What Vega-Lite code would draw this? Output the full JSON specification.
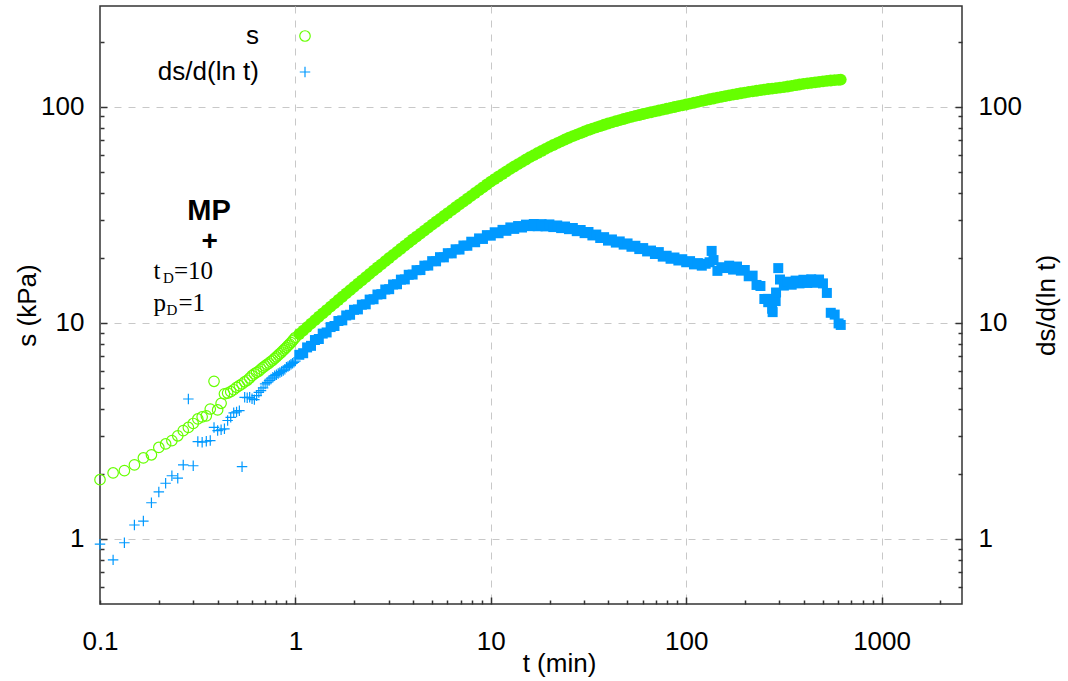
{
  "$schema": "https://vega.github.io/schema/vega-lite/v6.json",
  "width": 862,
  "height": 598,
  "autosize": {"type": "none"},
  "padding": {"left": 100, "top": 6, "right": 106, "bottom": 77},
  "background": "white",
  "config": {
    "view": {"stroke": "#333333", "strokeWidth": 1.5},
    "font": "Liberation Sans",
    "axis": {
      "domain": false,
      "labelFont": "Liberation Sans",
      "labelFontSize": 26,
      "labelColor": "#000000",
      "titleFont": "Liberation Sans",
      "titleFontSize": 26,
      "titleFontWeight": "normal",
      "titleColor": "#000000",
      "tickColor": "#333333",
      "tickWidth": 1.5,
      "gridColor": "#c8c8c8",
      "gridDash": [7, 7],
      "gridWidth": 1,
      "labelFlush": false,
      "labelOverlap": false
    }
  },
  "datasets": {
    "pts": [
      {"t":0.1,"s":1.88,"d":0.946},{"t":0.1167,"s":2.02,"d":0.8},{"t":0.1333,"s":2.07,"d":0.96},{"t":0.15,"s":2.2,"d":1.16},
      {"t":0.1667,"s":2.37,"d":1.21},{"t":0.1833,"s":2.45,"d":1.47},{"t":0.2,"s":2.65,"d":1.65},{"t":0.2167,"s":2.75,"d":1.81},
      {"t":0.2333,"s":2.85,"d":1.96},{"t":0.25,"s":3.0,"d":1.91},{"t":0.2667,"s":3.17,"d":2.2},{"t":0.2833,"s":3.28,"d":4.44},
      {"t":0.3,"s":3.42,"d":2.18},{"t":0.3167,"s":3.59,"d":2.82},{"t":0.3333,"s":3.67,"d":2.8},{"t":0.35,"s":3.71,"d":2.83},
      {"t":0.3667,"s":3.99,"d":2.85},{"t":0.3833,"s":5.36,"d":3.28},{"t":0.4,"s":3.95,"d":3.17},{"t":0.4167,"s":4.24,"d":3.2},
      {"t":0.4333,"s":4.69,"d":3.23},{"t":0.45,"s":4.73,"d":3.53},{"t":0.4667,"s":4.8,"d":3.65},{"t":0.4833,"s":4.9,"d":3.83},
      {"t":0.5,"s":5.03,"d":3.87},{"t":0.5167,"s":5.12,"d":3.92},{"t":0.5333,"s":5.21,"d":2.16},{"t":0.55,"s":5.33,"d":4.52},
      {"t":0.5667,"s":5.42,"d":4.5},{"t":0.5833,"s":5.55,"d":4.52},{"t":0.6,"s":5.69,"d":4.45},{"t":0.6167,"s":5.8,"d":4.41},
      {"t":0.6333,"s":5.89,"d":4.6},{"t":0.65,"s":5.98,"d":4.76},{"t":0.6667,"s":6.1,"d":4.85},{"t":0.6833,"s":6.22,"d":5.0},
      {"t":0.7,"s":6.32,"d":5.21},{"t":0.7167,"s":6.42,"d":5.3},{"t":0.7333,"s":6.5,"d":5.4},{"t":0.75,"s":6.62,"d":5.5},
      {"t":0.7667,"s":6.72,"d":5.6},{"t":0.7833,"s":6.85,"d":5.69},{"t":0.8,"s":6.95,"d":5.75},{"t":0.8167,"s":7.08,"d":5.82},
      {"t":0.8333,"s":7.2,"d":5.89},{"t":0.85,"s":7.32,"d":5.95},{"t":0.8667,"s":7.45,"d":6.02},{"t":0.8833,"s":7.58,"d":6.1},
      {"t":0.9,"s":7.7,"d":6.22},{"t":0.9167,"s":7.84,"d":6.28},{"t":0.9333,"s":7.97,"d":6.35},{"t":0.95,"s":8.1,"d":6.42},
      {"t":0.9667,"s":8.25,"d":6.49},{"t":0.9833,"s":8.4,"d":6.56},{"t":1.0,"s":8.55,"d":6.65},
      {"t":1.047,"s":8.87,"d":7.11},{"t":1.096,"s":9.2,"d":7.23},{"t":1.148,"s":9.55,"d":7.69},{"t":1.202,"s":9.91,"d":7.82},
      {"t":1.259,"s":10.28,"d":8.32},{"t":1.318,"s":10.66,"d":8.41},{"t":1.38,"s":11.05,"d":8.91},{"t":1.445,"s":11.45,"d":9.02},
      {"t":1.514,"s":11.87,"d":9.55},{"t":1.585,"s":12.3,"d":9.66},{"t":1.66,"s":12.74,"d":10.19},{"t":1.738,"s":13.19,"d":10.26},
      {"t":1.82,"s":13.67,"d":10.81},{"t":1.905,"s":14.15,"d":10.89},{"t":1.995,"s":14.66,"d":11.48},{"t":2.089,"s":15.17,"d":11.53},
      {"t":2.188,"s":15.7,"d":12.12},{"t":2.291,"s":16.26,"d":12.17},{"t":2.399,"s":16.83,"d":12.8},{"t":2.512,"s":17.42,"d":12.85},
      {"t":2.63,"s":18.02,"d":13.51},{"t":2.754,"s":18.63,"d":13.56},{"t":2.884,"s":19.27,"d":14.25},{"t":3.02,"s":19.93,"d":14.3},
      {"t":3.162,"s":20.61,"d":15.03},{"t":3.311,"s":21.29,"d":15.07},{"t":3.467,"s":22.0,"d":15.83},{"t":3.631,"s":22.73,"d":15.87},
      {"t":3.802,"s":23.49,"d":16.67},{"t":3.981,"s":24.27,"d":16.71},{"t":4.169,"s":25.05,"d":17.51},{"t":4.365,"s":25.86,"d":17.53},
      {"t":4.571,"s":26.69,"d":18.37},{"t":4.786,"s":27.55,"d":18.39},{"t":5.012,"s":28.45,"d":19.28},{"t":5.248,"s":29.34,"d":19.24},
      {"t":5.495,"s":30.26,"d":20.11},{"t":5.754,"s":31.2,"d":20.07},{"t":6.026,"s":32.18,"d":20.98},{"t":6.31,"s":33.19,"d":20.94},
      {"t":6.607,"s":34.22,"d":21.87},{"t":6.918,"s":35.27,"d":21.81},{"t":7.244,"s":36.36,"d":22.77},{"t":7.586,"s":37.48,"d":22.71},
      {"t":7.943,"s":38.64,"d":23.71},{"t":8.318,"s":39.83,"d":23.58},{"t":8.71,"s":41.06,"d":24.56},{"t":9.12,"s":42.33,"d":24.42},
      {"t":9.55,"s":43.63,"d":25.43},{"t":10.0,"s":44.98,"d":25.29},{"t":10.47,"s":46.22,"d":26.22},{"t":10.96,"s":47.49,"d":25.95},
      {"t":11.48,"s":48.8,"d":26.9},{"t":12.02,"s":50.14,"d":26.63},{"t":12.59,"s":51.52,"d":27.61},{"t":13.18,"s":52.82,"d":27.18},
      {"t":13.8,"s":54.15,"d":28.02},{"t":14.45,"s":55.51,"d":27.58},{"t":15.14,"s":56.91,"d":28.44},{"t":15.85,"s":58.34,"d":27.99},
      {"t":16.6,"s":59.65,"d":28.64},{"t":17.38,"s":60.98,"d":27.96},{"t":18.2,"s":62.35,"d":28.59},{"t":19.06,"s":63.74,"d":27.91},
      {"t":19.95,"s":65.16,"d":28.51},{"t":20.89,"s":66.43,"d":27.71},{"t":21.88,"s":67.73,"d":28.19},{"t":22.91,"s":69.06,"d":27.41},
      {"t":23.99,"s":70.41,"d":27.88},{"t":25.12,"s":71.78,"d":27.1},{"t":26.3,"s":72.98,"d":27.44},{"t":27.54,"s":74.2,"d":26.53},
      {"t":28.84,"s":75.44,"d":26.86},{"t":30.2,"s":76.7,"d":25.98},{"t":31.62,"s":77.98,"d":26.3},{"t":33.11,"s":79.07,"d":25.35},
      {"t":34.67,"s":80.16,"d":25.59},{"t":36.31,"s":81.28,"d":24.66},{"t":38.02,"s":82.42,"d":24.89},{"t":39.81,"s":83.56,"d":23.99},
      {"t":41.69,"s":84.57,"d":24.29},{"t":43.65,"s":85.59,"d":23.49},{"t":45.71,"s":86.62,"d":23.78},{"t":47.86,"s":87.66,"d":22.99},
      {"t":50.12,"s":88.72,"d":23.28},{"t":52.48,"s":89.62,"d":22.47},{"t":54.95,"s":90.53,"d":22.71},{"t":57.54,"s":91.45,"d":21.92},
      {"t":60.26,"s":92.39,"d":22.16},{"t":63.1,"s":93.33,"d":21.38},{"t":66.07,"s":94.19,"d":21.58},{"t":69.18,"s":95.06,"d":20.8},
      {"t":72.44,"s":95.94,"d":21.23},{"t":75.86,"s":96.83,"d":20.23},{"t":79.43,"s":97.72,"d":20.42},{"t":83.18,"s":98.63,"d":19.77},
      {"t":87.1,"s":99.54,"d":20.04},{"t":91.2,"s":100.5,"d":19.41},{"t":95.5,"s":101.4,"d":19.68},{"t":100.0,"s":102.3,"d":19.05},
      {"t":104.7,"s":103.3,"d":19.28},{"t":109.6,"s":104.2,"d":18.62},{"t":114.8,"s":105.2,"d":18.88},{"t":120.2,"s":106.2,"d":18.37},
      {"t":125.9,"s":107.2,"d":18.75},{"t":131.8,"s":108.1,"d":19.05},{"t":135,"d":21.5},{"t":138.0,"s":109.0,"d":19.5},{"t":144.5,"s":110.0,"d":17.38},
      {"t":151.4,"s":111.0,"d":18.07},{"t":158.5,"s":111.9,"d":17.91},{"t":166.0,"s":112.8,"d":18.37},{"t":173.8,"s":113.6,"d":17.62},
      {"t":182.0,"s":114.4,"d":18.2},{"t":190.5,"s":115.3,"d":17.42},{"t":199.5,"s":116.1,"d":17.54},{"t":208.9,"s":116.9,"d":16.41},
      {"t":218.8,"s":117.6,"d":16.52},{"t":229.1,"s":118.4,"d":14.96},{"t":239.9,"s":119.2,"d":14.79},{"t":251.2,"s":119.9,"d":12.88},
      {"t":262,"d":12.9},{"t":263.0,"s":120.6,"d":12.45},{"t":275.4,"s":121.2,"d":11.61},{"t":277,"d":11.2},{"t":287,"d":12.6},
      {"t":288.4,"s":121.8,"d":13.8},{"t":296,"d":17.9},{"t":302.0,"s":122.4,"d":15.85},{"t":316.2,"s":123.0,"d":14.86},
      {"t":331.1,"s":123.9,"d":15.49},{"t":346.7,"s":124.7,"d":15.0},{"t":363.1,"s":125.6,"d":15.67},{"t":380.2,"s":126.5,"d":15.21},
      {"t":398.1,"s":127.4,"d":15.81},{"t":416.9,"s":128.1,"d":15.28},{"t":436.5,"s":128.8,"d":15.89},{"t":457.1,"s":129.5,"d":15.31},
      {"t":478.6,"s":130.2,"d":15.85},{"t":501.2,"s":130.9,"d":15.21},{"t":524.8,"s":131.5,"d":13.74},{"t":549.5,"s":132.0,"d":11.12},
      {"t":575.4,"s":132.6,"d":10.91},{"t":602.6,"s":133.0,"d":9.93},{"t":618,"s":133.3,"d":9.77}
    ]
  },
  "layer": [
    {
      "data": {"name": "pts"},
      "transform": [
        {"filter": "datum.t <= 1"},
        {"fold": ["s", "d"], "as": ["series", "value"]},
        {"filter": "isValid(datum.value) && datum.value > 0"}
      ],
      "mark": {"type": "point", "filled": false, "opacity": 1, "strokeWidth": 1.2},
      "encoding": {
        "x": {
          "field": "t", "type": "quantitative",
          "scale": {"type": "log", "domain": [0.1, 2580], "nice": false},
          "axis": {"orient": "bottom", "values": [1, 10, 100, 1000], "format": "~g", "grid": true, "tickSize": -7, "labelPadding": 31, "title": "t (min)", "titleX": 459, "titleY": 67, "titleAlign": "center", "titleBaseline": "alphabetic"}
        },
        "y": {
          "field": "value", "type": "quantitative",
          "scale": {"type": "log", "domain": [0.5, 292], "nice": false},
          "axis": {"orient": "left", "values": [1, 10, 100], "format": "~g", "grid": true, "tickSize": -7, "labelPadding": 23, "title": "s (kPa)", "titlePadding": 0}
        },
        "color": {
          "field": "series", "type": "nominal",
          "scale": {"domain": ["s", "d"], "range": ["#66ff00", "#0099ff"]},
          "legend": {"orient": "none", "legendX": 140, "legendY": 17, "title": null, "labelAlign": "right", "labelOffset": -59, "symbolOffset": 52, "labelExpr": "datum.label == 'd' ? 'ds/d(ln t)' : 's'", "rowPadding": 10, "symbolSize": 110, "labelFontSize": 26, "labelFont": "Liberation Sans", "labelColor": "#000000", "symbolStrokeWidth": 1.2, "padding": 0}
        },
        "shape": {
          "field": "series", "type": "nominal",
          "scale": {"domain": ["s", "d"], "range": ["circle", "M-1,0H1M0,-1V1"]},
          "legend": {"orient": "none", "legendX": 140, "legendY": 17, "title": null, "labelAlign": "right", "labelOffset": -59, "symbolOffset": 52, "labelExpr": "datum.label == 'd' ? 'ds/d(ln t)' : 's'", "rowPadding": 10, "symbolSize": 110, "labelFontSize": 26, "labelFont": "Liberation Sans", "labelColor": "#000000", "symbolStrokeWidth": 1.2, "padding": 0}
        },
        "size": {"value": 110}
      }
    },
    {
      "data": {"name": "pts"},
      "transform": [{"filter": "datum.t > 1 && isValid(datum.s)"}],
      "mark": {"type": "point", "filled": true, "opacity": 1, "shape": "circle", "color": "#66ff00", "size": 140},
      "encoding": {
        "x": {"field": "t", "type": "quantitative", "axis": null},
        "y": {"field": "s", "type": "quantitative", "axis": null}
      }
    },
    {
      "data": {"name": "pts"},
      "transform": [{"filter": "datum.t > 1 && isValid(datum.d)"}],
      "mark": {"type": "point", "filled": true, "opacity": 1, "shape": "square", "color": "#0099ff", "size": 100},
      "encoding": {
        "x": {"field": "t", "type": "quantitative", "axis": null},
        "y": {"field": "d", "type": "quantitative", "axis": null}
      }
    },
    {
      "data": {"values": [{}]},
      "mark": {"type": "text", "text": "MP", "font": "Liberation Sans", "fontSize": 29, "fontWeight": "bold", "align": "center", "baseline": "alphabetic", "color": "#000000"},
      "encoding": {
        "x": {"datum": 0.3614, "type": "quantitative",
          "axis": {"orient": "bottom", "values": [0.1,0.2,0.3,0.4,0.5,0.6,0.7,0.8,0.9,2,3,4,5,6,7,8,9,20,30,40,50,60,70,80,90,200,300,400,500,600,700,800,900,2000], "labelExpr": "datum.value == 0.1 ? '0.1' : ''", "grid": false, "tickSize": -4, "labelPadding": 28, "title": null}},
        "y": {"datum": 29.9, "type": "quantitative",
          "axis": {"orient": "right", "values": [1, 10, 100], "format": "~g", "grid": false, "tickSize": -7, "labelPadding": 23, "title": "ds/d(ln t)", "titleAngle": -90, "titleBaseline": "top", "titlePadding": 12}}
      }
    },
    {
      "data": {"values": [{}]},
      "mark": {"type": "text", "text": "+", "font": "Liberation Sans", "fontSize": 28, "fontWeight": "bold", "align": "center", "baseline": "alphabetic", "color": "#000000"},
      "encoding": {
        "x": {"datum": 0.364, "type": "quantitative", "axis": null},
        "y": {"datum": 21.6, "type": "quantitative",
          "axis": {"orient": "left", "values": [0.6,0.7,0.8,0.9,2,3,4,5,6,7,8,9,20,30,40,50,60,70,80,90,200], "labels": false, "grid": false, "tickSize": -4, "title": null}}
      }
    },
    {
      "data": {"values": [{}]},
      "mark": {"type": "text", "text": "t", "font": "Liberation Serif", "fontSize": 25, "align": "left", "baseline": "alphabetic", "color": "#000000"},
      "encoding": {
        "x": {"datum": 0.1876, "type": "quantitative", "axis": null},
        "y": {"datum": 15.95, "type": "quantitative",
          "axis": {"orient": "right", "values": [0.6,0.7,0.8,0.9,2,3,4,5,6,7,8,9,20,30,40,50,60,70,80,90,200], "labels": false, "grid": false, "tickSize": -4, "title": null}}
      }
    },
    {
      "data": {"values": [{}]},
      "mark": {"type": "text", "text": "D", "font": "Liberation Serif", "fontSize": 15, "align": "left", "baseline": "alphabetic", "dx": 9.5, "dy": 4, "color": "#000000"},
      "encoding": {
        "x": {"datum": 0.1876, "type": "quantitative", "axis": null},
        "y": {"datum": 15.95, "type": "quantitative", "axis": null}
      }
    },
    {
      "data": {"values": [{}]},
      "mark": {"type": "text", "text": "=10", "font": "Liberation Serif", "fontSize": 25, "align": "left", "baseline": "alphabetic", "dx": 20.5, "color": "#000000"},
      "encoding": {
        "x": {"datum": 0.1876, "type": "quantitative", "axis": null},
        "y": {"datum": 15.95, "type": "quantitative", "axis": null}
      }
    },
    {
      "data": {"values": [{}]},
      "mark": {"type": "text", "text": "p", "font": "Liberation Serif", "fontSize": 25, "align": "left", "baseline": "alphabetic", "color": "#000000"},
      "encoding": {
        "x": {"datum": 0.1876, "type": "quantitative", "axis": null},
        "y": {"datum": 11.38, "type": "quantitative", "axis": null}
      }
    },
    {
      "data": {"values": [{}]},
      "mark": {"type": "text", "text": "D", "font": "Liberation Serif", "fontSize": 15, "align": "left", "baseline": "alphabetic", "dx": 13, "dy": 4, "color": "#000000"},
      "encoding": {
        "x": {"datum": 0.1876, "type": "quantitative", "axis": null},
        "y": {"datum": 11.38, "type": "quantitative", "axis": null}
      }
    },
    {
      "data": {"values": [{}]},
      "mark": {"type": "text", "text": "=1", "font": "Liberation Serif", "fontSize": 25, "align": "left", "baseline": "alphabetic", "dx": 25, "color": "#000000"},
      "encoding": {
        "x": {"datum": 0.1876, "type": "quantitative", "axis": null},
        "y": {"datum": 11.38, "type": "quantitative", "axis": null}
      }
    }
  ],
  "resolve": {"axis": {"x": "independent", "y": "independent"}}
}
